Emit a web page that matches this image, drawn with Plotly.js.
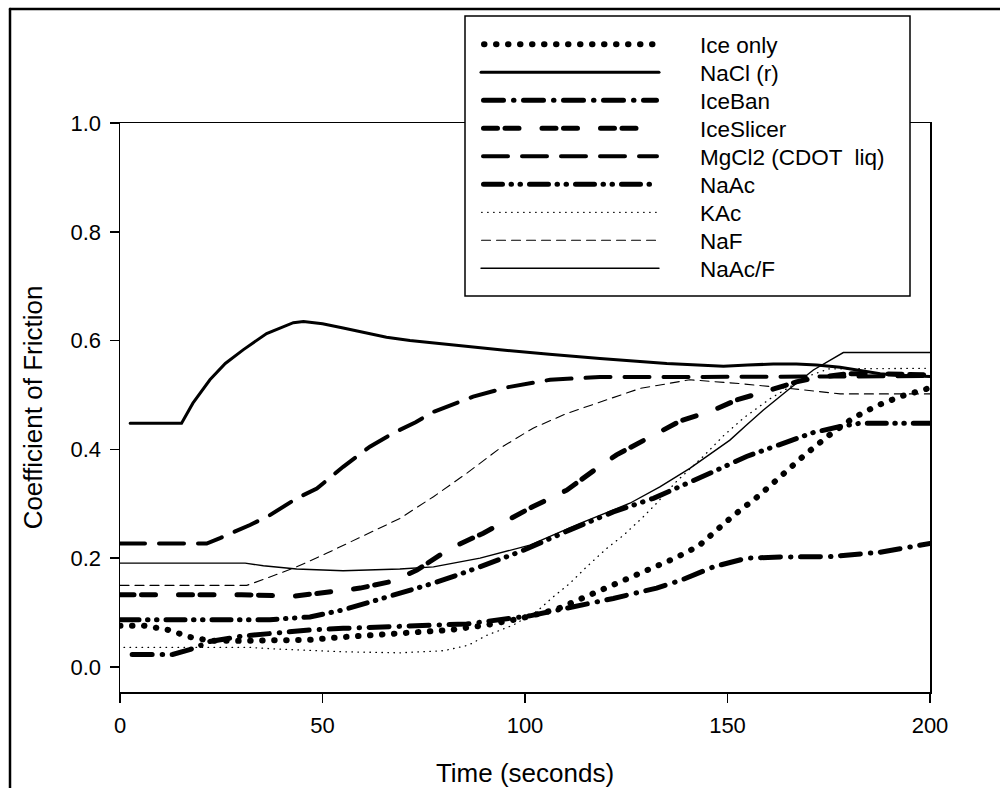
<!DOCTYPE html>
<html>
<head>
<meta charset="utf-8">
<script src="https://cdn.plot.ly/plotly-3.0.1.min.js"></script>
<style>
  html, body { margin: 0; padding: 0; background: #fff; }
  #chart { width: 1000px; height: 788px; }
  .js-line, .shapelayer path { stroke-linecap: round; }
</style>
</head>
<body>
<div id="chart"></div>
<script>
// ---- Data ----
const seriesNames = ["Ice only", "NaCl (r)", "IceBan", "IceSlicer", "MgCl2 (CDOT  liq)", "NaAc", "KAc", "NaF", "NaAc/F"];

const iceOnlyT = [0, 5.8, 11.5, 14.4, 17.3, 20.2, 23, 28.8, 38.7, 46.9, 55.1, 70, 81.5, 90.5, 98.8, 107.8, 113.6, 119.3, 125.1, 131.3, 137, 142.8, 145.7, 151.4, 157.6, 163.4, 169.1, 174.9, 180.9, 186.8, 192.6, 200];
const iceOnlyV = [0.076, 0.076, 0.069, 0.061, 0.055, 0.051, 0.048, 0.048, 0.048, 0.050, 0.055, 0.062, 0.068, 0.077, 0.089, 0.106, 0.125, 0.143, 0.162, 0.181, 0.200, 0.222, 0.241, 0.278, 0.314, 0.353, 0.390, 0.425, 0.457, 0.480, 0.497, 0.513];

const naclT = [2.5, 15.2, 18, 22.2, 26, 30.4, 36.2, 42.8, 45.3, 50, 55.1, 65.8, 71.6, 82, 93.8, 106, 118.5, 135, 143.2, 149, 155, 161.3, 167, 172, 177.8, 182, 187.7, 193, 200];
const naclV = [0.448, 0.448, 0.485, 0.528, 0.558, 0.583, 0.613, 0.633, 0.635, 0.631, 0.623, 0.606, 0.600, 0.592, 0.583, 0.575, 0.567, 0.558, 0.555, 0.553, 0.555, 0.557, 0.557, 0.555, 0.551, 0.546, 0.539, 0.536, 0.534];

const iceBanT = [3, 13, 18.1, 22.2, 30.4, 38.7, 46.9, 55.1, 67.5, 85.6, 101.2, 112.8, 121.8, 132.5, 138.7, 146.5, 154.7, 163, 175.3, 187.7, 193, 200];
const iceBanV = [0.023, 0.023, 0.034, 0.047, 0.057, 0.063, 0.068, 0.071, 0.075, 0.079, 0.094, 0.112, 0.126, 0.145, 0.160, 0.184, 0.200, 0.202, 0.203, 0.211, 0.218, 0.227];

const iceSlicerT = [0, 30, 42.8, 51, 59.3, 67.5, 73.3, 81.5, 89.7, 102, 110.3, 117.7, 122.6, 131.7, 138.3, 146.5, 152.3, 160.5, 167, 171.2, 179.4, 187.7, 200];
const iceSlicerV = [0.133, 0.133, 0.130, 0.137, 0.145, 0.158, 0.178, 0.218, 0.246, 0.295, 0.325, 0.365, 0.390, 0.426, 0.452, 0.472, 0.491, 0.509, 0.524, 0.531, 0.539, 0.539, 0.537];

const mgcl2T = [0, 21.4, 24.7, 32.1, 37, 43.6, 48.6, 55.1, 61.7, 67.5, 73, 77.4, 87.2, 95.5, 106.2, 118.5, 135, 150.6, 165, 180, 200];
const mgcl2V = [0.227, 0.227, 0.237, 0.261, 0.279, 0.310, 0.328, 0.368, 0.405, 0.430, 0.450, 0.469, 0.497, 0.514, 0.528, 0.533, 0.533, 0.533, 0.533, 0.534, 0.535];

const naacT = [0, 37, 46.9, 55.1, 63.4, 70, 77.4, 85.6, 90.5, 98.8, 111.1, 121.8, 131.7, 138.3, 146.5, 154.7, 163, 171.2, 177.8, 182.7, 200];
const naacV = [0.087, 0.087, 0.092, 0.105, 0.123, 0.137, 0.154, 0.175, 0.188, 0.212, 0.252, 0.285, 0.310, 0.331, 0.359, 0.387, 0.408, 0.431, 0.442, 0.448, 0.448];

const kacT = [1, 32, 38.7, 55.1, 69, 80, 86, 90.5, 97.1, 102.9, 107, 111.1, 115.2, 120.2, 124.3, 129.2, 132.5, 137.4, 144, 149, 154, 160.5, 165.4, 170, 175, 200];
const kacV = [0.036, 0.036, 0.033, 0.028, 0.026, 0.030, 0.040, 0.058, 0.077, 0.102, 0.129, 0.154, 0.184, 0.218, 0.242, 0.276, 0.301, 0.341, 0.387, 0.425, 0.458, 0.493, 0.515, 0.535, 0.548, 0.549];

const nafT = [0, 31.3, 36.2, 43.6, 51, 61.7, 69.1, 77.4, 85.6, 93.8, 102, 110.3, 118.5, 128.4, 140.7, 153, 165.4, 177.8, 200];
const nafV = [0.150, 0.150, 0.163, 0.184, 0.209, 0.246, 0.273, 0.313, 0.356, 0.402, 0.439, 0.466, 0.487, 0.512, 0.528, 0.521, 0.512, 0.502, 0.502];

const naacfT = [0, 30.9, 35.4, 43.6, 55.1, 69.1, 77.4, 88.9, 101.2, 113.6, 125.9, 133.3, 140.7, 150.6, 154.7, 158.8, 165.4, 171.2, 178.6, 200];
const naacfV = [0.191, 0.191, 0.186, 0.180, 0.177, 0.180, 0.184, 0.200, 0.224, 0.264, 0.301, 0.331, 0.365, 0.417, 0.445, 0.472, 0.512, 0.546, 0.578, 0.578];

const xTickVals = [0, 50, 100, 150, 200];
const yTickVals = [0.0, 0.2, 0.4, 0.6, 0.8, 1.0];

// ---- Styles ----
const FONT = "Liberation Sans, Arial, Helvetica, sans-serif";
const styles = [
  { width: 6,   dash: "0.5px,11.5px" },                      // Ice only (big dots)
  { width: 3,   dash: "solid" },                             // NaCl (r)
  { width: 5,   dash: "20px,10px,0.5px,9.5px" },             // IceBan
  { width: 5,   dash: "14px,7.5px,14px,23px" },              // IceSlicer
  { width: 4,   dash: "25px,14px" },                         // MgCl2
  { width: 5,   dash: "19px,8.5px,0.5px,8.5px,0.5px,9px" },  // NaAc
  { width: 1.3, dash: "0.5px,5.5px" },                       // KAc
  { width: 1.1, dash: "9px,6px" },                           // NaF
  { width: 1.4, dash: "solid" }                              // NaAc/F
];
const xs = [iceOnlyT, naclT, iceBanT, iceSlicerT, mgcl2T, naacT, kacT, nafT, naacfT];
const ys = [iceOnlyV, naclV, iceBanV, iceSlicerV, mgcl2V, naacV, kacV, nafV, naacfV];

const traces = seriesNames.map((n, i) => ({
  type: "scatter", mode: "lines", name: n, x: xs[i], y: ys[i],
  line: { color: "#000", width: styles[i].width, dash: styles[i].dash },
  showlegend: false, hoverinfo: "skip"
}));

// ---- Layout helpers (pixel -> paper) ----
const L = 120, R = 930, T = 123, B = 692;
const px = v => (v - L) / (R - L);
const py = v => (B - v) / (B - T);

const shapes = [
  // outer frame (top + left edges)
  { type: "line", xref: "paper", yref: "paper", x0: px(10), x1: px(1002), y0: py(9), y1: py(9), line: { color: "#000", width: 2.5 } },
  { type: "line", xref: "paper", yref: "paper", x0: px(10), x1: px(10), y0: py(9), y1: py(790), line: { color: "#000", width: 2.5 } },
  // legend box
  { type: "rect", xref: "paper", yref: "paper", layer: "above", x0: px(465), x1: px(910), y0: py(296), y1: py(16), fillcolor: "#fff", line: { color: "#000", width: 1.5 } }
];
const annotations = [];
seriesNames.forEach((n, i) => {
  const rowY = 44.3 + i * 28;
  const w = styles[i].width;
  const inset = (styles[i].dash === "solid") ? 0 : w / 2;
  shapes.push({ type: "line", xref: "paper", yref: "paper", layer: "above",
    x0: px(481 + inset), x1: px(659 - inset), y0: py(rowY), y1: py(rowY),
    line: { color: "#000", width: w, dash: styles[i].dash } });
  annotations.push({ xref: "paper", yref: "paper", x: px(698), y: py(rowY + 1),
    xanchor: "left", yanchor: "middle", showarrow: false,
    text: n.replace(/  /g, " \u00a0"), font: { family: FONT, size: 22.5, color: "#000" } });
});

const axisCommon = {
  showline: true, linecolor: "#000", linewidth: 1.5, mirror: true,
  ticks: "outside", ticklen: 9, tickwidth: 1.5, tickcolor: "#000",
  showgrid: false, zeroline: false,
  tickfont: { family: FONT, size: 22, color: "#000" }
};

const layout = {
  width: 1000, height: 788,
  margin: { l: L, r: 1000 - R, t: T, b: 788 - B },
  paper_bgcolor: "#fff", plot_bgcolor: "#fff",
  font: { family: FONT, color: "#000" },
  showlegend: false,
  xaxis: Object.assign({}, axisCommon, {
    range: [0, 200], tickvals: xTickVals, ticktext: xTickVals.map(String),
    ticklabelstandoff: 4,
    title: { text: "Time (seconds)", font: { family: FONT, size: 26, color: "#000" }, standoff: 28 }
  }),
  yaxis: Object.assign({}, axisCommon, {
    range: [-0.046, 1.0], tickvals: yTickVals, ticktext: yTickVals.map(v => v.toFixed(1)),
    ticklabelstandoff: 4,
    title: { text: "Coefficient of Friction", font: { family: FONT, size: 26, color: "#000" }, standoff: 20 }
  }),
  shapes: shapes,
  annotations: annotations
};

Plotly.newPlot("chart", traces, layout, { staticPlot: true, displayModeBar: false });
</script>
</body>
</html>
